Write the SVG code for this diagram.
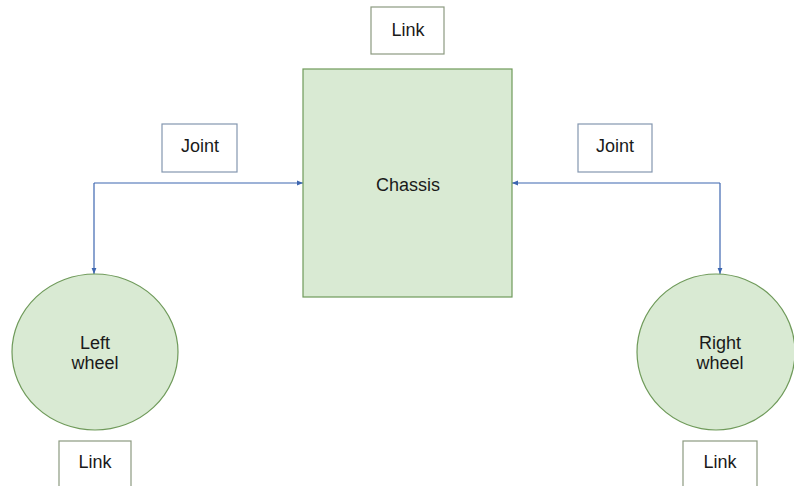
<svg xmlns="http://www.w3.org/2000/svg" width="794" height="486" viewBox="0 0 794 486">
  <style>
    text { font-family: "Liberation Sans", Arial, sans-serif; font-size: 18px; fill: #1a1a1a; text-anchor: middle; }
    .body { fill: #d9ead3; stroke: #6f9a5a; stroke-width: 1.2; }
    .link { fill: #fff; stroke: #8c9a80; stroke-width: 1.2; }
    .joint { fill: #fff; stroke: #8497b0; stroke-width: 1.2; }
    .conn { fill: none; stroke: #3d66b0; stroke-width: 1.2; }
  </style>
  <defs>
    <marker id="arrow" viewBox="0 0 10 10" refX="10" refY="5" markerWidth="6" markerHeight="6" orient="auto" markerUnits="userSpaceOnUse">
      <path d="M0,1 L10,5 L0,9 z" fill="#3d66b0"/>
    </marker>
  </defs>
  <rect width="794" height="486" fill="#fff"/>

  <g id="connectors">
    <!-- left joint: chassis <-> left wheel -->
    <line class="conn" x1="94" y1="183" x2="303" y2="183" marker-end="url(#arrow)"/>
    <line class="conn" x1="94" y1="183" x2="94" y2="274" marker-end="url(#arrow)"/>
    <!-- right joint: chassis <-> right wheel -->
    <line class="conn" x1="720" y1="183" x2="512" y2="183" marker-end="url(#arrow)"/>
    <line class="conn" x1="720" y1="183" x2="720" y2="274" marker-end="url(#arrow)"/>
  </g>

  <g id="chassis">
    <rect class="body" x="303" y="69" width="209" height="228"/>
    <text x="408" y="191">Chassis</text>
  </g>
  <g id="chassis-link">
    <rect class="link" x="371" y="7" width="73" height="47"/>
    <text x="408" y="36">Link</text>
  </g>
  <g id="left-joint">
    <rect class="joint" x="162" y="124" width="75" height="48"/>
    <text x="200" y="152">Joint</text>
  </g>
  <g id="right-joint">
    <rect class="joint" x="578" y="124" width="74" height="48"/>
    <text x="615" y="152">Joint</text>
  </g>
  <g id="left-wheel">
    <ellipse class="body" cx="95" cy="352" rx="83" ry="78"/>
    <text x="95" y="349">Left</text>
    <text x="95" y="369">wheel</text>
  </g>
  <g id="left-wheel-link">
    <rect class="link" x="59" y="441" width="72" height="50"/>
    <text x="95" y="468">Link</text>
  </g>
  <g id="right-wheel">
    <ellipse class="body" cx="716" cy="352" rx="79" ry="78"/>
    <text x="720" y="349">Right</text>
    <text x="720" y="369">wheel</text>
  </g>
  <g id="right-wheel-link">
    <rect class="link" x="683" y="441" width="74" height="50"/>
    <text x="720" y="468">Link</text>
  </g>
</svg>
